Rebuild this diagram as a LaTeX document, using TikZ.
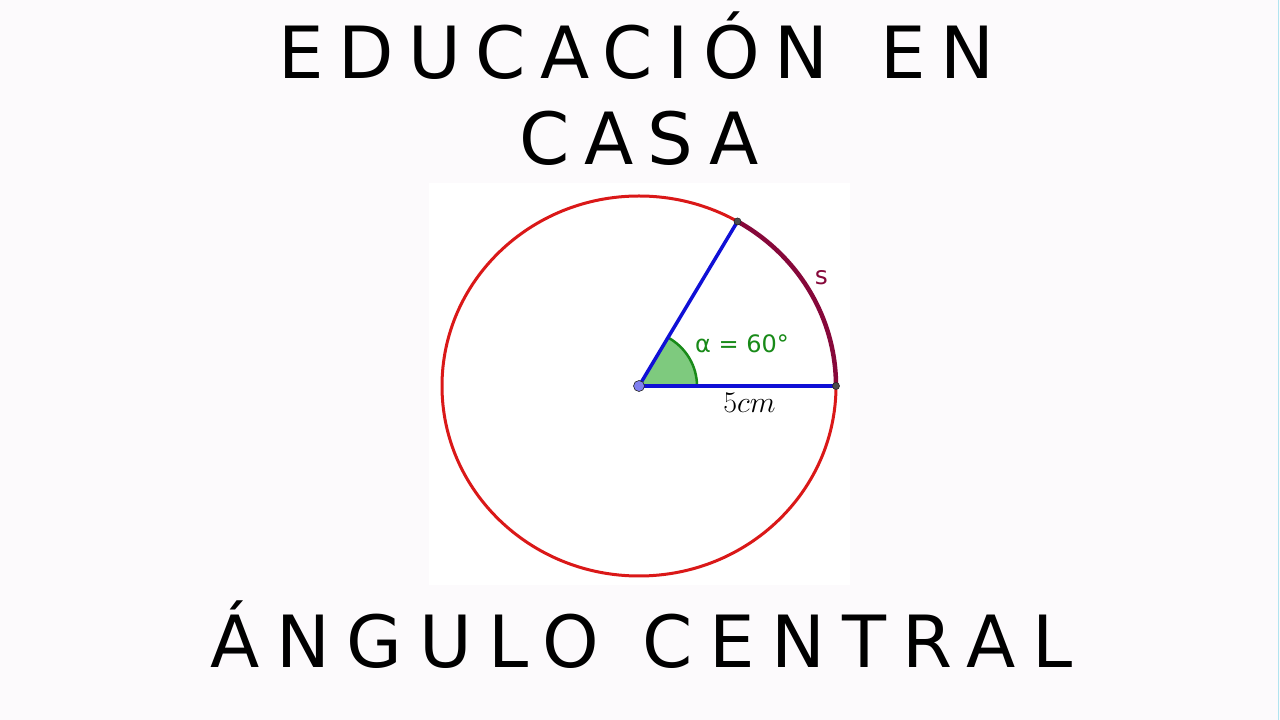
\documentclass[tikz,border=0pt]{standalone}
\usepackage{fix-cm}
\usepackage{amsmath}
\usepackage{fontspec}
\newfontfamily\titlefont[LetterSpace=20]{DejaVu Sans}
\newfontfamily\wideTitlefont[LetterSpace=23]{DejaVu Sans}
\newfontfamily\labelfont{DejaVu Sans}
\newcommand\wgap[1]{\hspace{#1pt}}
\definecolor{bgpaper}{RGB}{252,250,252}
\definecolor{circred}{RGB}{218,24,24}
\definecolor{radblue}{RGB}{16,16,214}
\definecolor{arcmaroon}{RGB}{134,8,58}
\definecolor{anggreen}{RGB}{24,138,24}
\definecolor{angfill}{RGB}{126,202,126}
\definecolor{ptblue}{RGB}{128,128,240}
\definecolor{edgecyan}{RGB}{176,228,240}
\tikzset{
  titletext/.style={font=\titlefont\fontsize{72}{80}\selectfont, anchor=base, inner sep=0pt},
  point/.style={circle, fill=black!70, draw=black!85, line width=0.6pt, inner sep=0pt, minimum size=7pt}
}
\begin{document}
\begin{tikzpicture}[x=1pt,y=1pt]
\xdef\rx{197}
\xdef\ry{190}
\xdef\ang{60}
% page and panel
\fill[bgpaper] (0,0) rectangle (1280,720);
\useasboundingbox (0,0) rectangle (1280,720);
\fill[white] (429,135) rectangle (850,537);
\draw[edgecyan, line width=1.6pt] (1278.6,0) -- (1278.6,720);
% titles
\node[titletext] (t1) at (636.5,641) {EDUCACIÓN \wgap{15}EN};
\node[titletext] (t2) at (639,555) {CASA};
\node[titletext, font=\wideTitlefont\fontsize{72}{80}\selectfont] (t3) at (641.5,52) {ÁNGULO \wgap{4}CENTRAL};
% circle and points
\coordinate (O) at (639,334);
\draw[circred, line width=3pt] (O) ellipse[x radius=\rx, y radius=\ry];
\coordinate (A) at ([shift={(\rx,0)}]O);
\coordinate (B) at ([shift={({\rx*cos(\ang)},{\ry*sin(\ang)})}]O);
\draw[arcmaroon, line width=4.5pt] (A) arc[start angle=0, end angle=\ang, x radius=\rx, y radius=\ry];
% angle
\fill[angfill] (O) -- ++(58,0) arc[start angle=0, end angle=\ang, x radius=58, y radius=56] -- cycle;
\draw[anggreen, line width=2.5pt] ([shift={(58,0)}]O) arc[start angle=0, end angle=\ang, x radius=58, y radius=56];
\draw[radblue, line width=3.5pt] (O) -- (A);
\draw[radblue, line width=3.5pt] (O) -- (B);
\node[point] (a) at (A) {};
\node[point] (b) at (B) {};
\node[point, fill=ptblue, minimum size=11pt] (o) at (O) {};
% labels
\node[anchor=base west, inner sep=0pt, text=anggreen, font=\labelfont\fontsize{24}{28}\selectfont] (alpha) at (695,367) {α = 60°};
\node[anchor=base, inner sep=0pt, font=\fontsize{30}{36}\selectfont] (len) at (749.5,307) {$5cm$};
\node[anchor=base, inner sep=0pt, text=arcmaroon, font=\labelfont\fontsize{25}{30}\selectfont] (s) at (821.5,435) {s};
\end{tikzpicture}
\end{document}
